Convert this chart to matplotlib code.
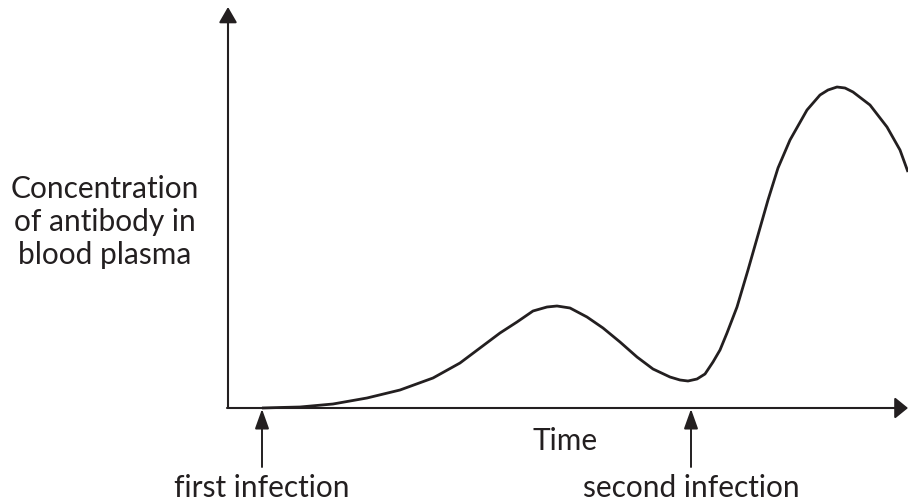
import matplotlib
matplotlib.use("Agg")
import matplotlib.pyplot as plt

# antibody curve (time units, concentration units)
time = [34, 52, 72, 105, 139, 172, 205, 232, 252, 272, 289, 305, 319, 329,
        342, 359, 375, 392, 409, 425, 442, 452, 460, 469, 477, 485, 492, 499,
        509, 520, 530, 540, 550, 562, 579, 592, 600, 609, 617, 625, 642, 659,
        672, 680]
conc = [0, 0.5, 1, 4, 10, 18, 30, 45, 60, 75, 86, 97, 101, 102,
        100, 91, 80, 66, 51, 39, 31, 28, 27, 29, 34, 46, 58, 75,
        101, 138, 173, 208, 240, 268, 298, 313, 318, 321, 320, 316, 303, 281,
        258, 236]

first_infection = 34
second_infection = 463
y_label = "Concentration\nof antibody in\nblood plasma"
x_label = "Time"

ink = "#231f20"
plt.rcParams['font.family'] = ['Lato', 'DejaVu Sans']

fig = plt.figure(figsize=(9.08, 5.03), dpi=100)
ax = fig.add_axes([0, 0, 1, 1])
ax.set_xlim(-228, 680)
ax.set_ylim(-95, 408)
ax.axis('off')

# axes with arrow heads
ax.annotate('', xy=(0, 401), xytext=(0, 0),
            arrowprops=dict(arrowstyle='-|>,head_length=0.95,head_width=0.55',
                            mutation_scale=10, lw=1.5, color=ink,
                            shrinkA=0, shrinkB=0))
ax.annotate('', xy=(680, 0), xytext=(-1, 0),
            arrowprops=dict(arrowstyle='-|>,head_length=0.8,head_width=0.65',
                            mutation_scale=10, lw=1.5, color=ink,
                            shrinkA=0, shrinkB=0))

ax.plot(time, conc, color=ink, lw=2.0, solid_joinstyle='round',
        solid_capstyle='butt')

# infection markers
for t, name in [(first_infection, "first infection"),
                (second_infection, "second infection")]:
    ax.annotate('', xy=(t, -1), xytext=(t, -59),
                arrowprops=dict(arrowstyle='-|>,head_length=1.2,head_width=0.43',
                                mutation_scale=10, lw=1.4, color=ink,
                                shrinkA=0, shrinkB=0))
    ax.text(t, -80, name, ha='center', va='center', fontsize=21.5, color=ink)

ax.text(337, -33, x_label, ha='center', va='center', fontsize=21.5, color=ink)
ax.text(-123, 186, y_label, ha='center', va='center', fontsize=21.5, color=ink,
        linespacing=1.2)

fig.savefig("out.png", dpi=100)
